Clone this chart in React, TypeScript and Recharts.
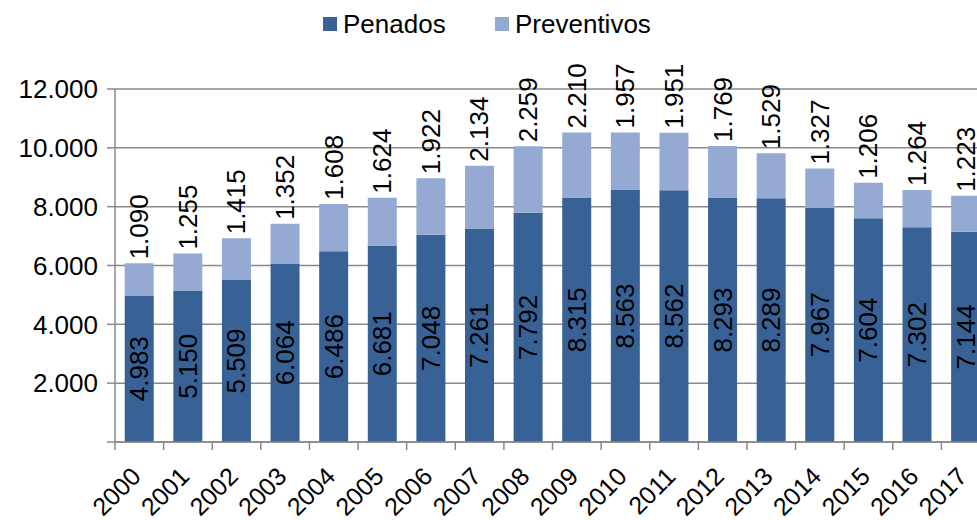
import React from 'react';
import { BarChart, Bar, XAxis, YAxis, CartesianGrid, LabelList } from 'recharts';

const years = ['2000','2001','2002','2003','2004','2005','2006','2007','2008','2009','2010','2011','2012','2013','2014','2015','2016','2017'];
const penados = [4983, 5150, 5509, 6064, 6486, 6681, 7048, 7261, 7792, 8315, 8563, 8562, 8293, 8289, 7967, 7604, 7302, 7144];
const preventivos = [1090, 1255, 1415, 1352, 1608, 1624, 1922, 2134, 2259, 2210, 1957, 1951, 1769, 1529, 1327, 1206, 1264, 1223];
const yTicks = [0, 2000, 4000, 6000, 8000, 10000, 12000];

const data = years.map((y, i) => ({ year: y, penados: penados[i], preventivos: preventivos[i] }));

const DARK = '#386296';
const LIGHT = '#94AAD2';
const GRID = '#8a8a8a';
const FONT = '"Liberation Sans", Arial, sans-serif';

const fmt = (v: number) => String(Math.round(v)).replace(/\B(?=(\d{3})+(?!\d))/g, '.');

const CHART_W = 990;
const CHART_H = 520;
const Y_W = 115;
const BW = (CHART_W - Y_W) / years.length;

const XTick = (props: any) => {
  const { x, y, payload } = props;
  const half = payload && typeof payload.offset === 'number' && payload.offset > 0 ? payload.offset : BW / 2;
  const ax = x + 3;
  const ay = y + 36;
  return (
    <g>
      <line x1={x - half} x2={x - half} y1={y} y2={y + 8} stroke={GRID} strokeWidth={1.5} />
      <text x={ax} y={ay} transform={`rotate(-45, ${ax}, ${ay})`} textAnchor="end" fontSize={25} fontFamily={FONT} fill="#000">
        {payload.value}
      </text>
    </g>
  );
};

const InnerLabel = (props: any) => {
  const { x, y, width, height, value } = props;
  const cx = x + width / 2;
  const cy = y + height / 2;
  return (
    <text x={cx} y={cy} transform={`rotate(-90, ${cx}, ${cy})`} textAnchor="middle" dominantBaseline="central" fontSize={26} fontFamily={FONT} fill="#000">
      {fmt(value)}
    </text>
  );
};

const TopLabel = (props: any) => {
  const { x, y, width, value } = props;
  const cx = x + width / 2;
  const cy = y - 4;
  return (
    <text x={cx} y={cy} transform={`rotate(-90, ${cx}, ${cy})`} textAnchor="start" dominantBaseline="central" fontSize={26} fontFamily={FONT} fill="#000">
      {fmt(value)}
    </text>
  );
};

const LegendItem = ({ color, label, left }: { color: string; label: string; left: number }) => (
  <div style={{ position: 'absolute', left, top: 8, height: 32, display: 'flex', alignItems: 'center' }}>
    <div style={{ width: 14, height: 14, background: color, marginRight: 6 }} />
    <span style={{ fontFamily: FONT, fontSize: 26, color: '#000', lineHeight: '32px' }}>{label}</span>
  </div>
);

export default function App() {
  return (
    <div style={{ position: 'fixed', left: 0, top: 0, width: 977, height: 520, overflow: 'hidden', background: '#fff' }}>
      <LegendItem color={DARK} label="Penados" left={323} />
      <LegendItem color={LIGHT} label="Preventivos" left={495} />
      <div style={{ position: 'absolute', left: 0, top: 0 }}>
        <BarChart width={CHART_W} height={CHART_H} data={data} margin={{ top: 89, right: 0, bottom: 0, left: 0 }} barCategoryGap="20%">
          <CartesianGrid vertical={false} stroke={GRID} strokeWidth={1.5} />
          <XAxis
            dataKey="year"
            height={78}
            axisLine={{ stroke: GRID, strokeWidth: 1.5 }}
            tickLine={false}
            tickSize={0}
            tickMargin={0}
            interval={0}
            tick={<XTick />}
          />
          <YAxis
            width={Y_W}
            domain={[0, 12000]}
            ticks={yTicks}
            interval={0}
            tickFormatter={(v: number) => (v === 0 ? '' : fmt(v))}
            axisLine={{ stroke: GRID, strokeWidth: 1.5 }}
            tickLine={{ stroke: GRID, strokeWidth: 1.5 }}
            tickSize={8}
            tickMargin={9}
            tick={{ fontSize: 26, fontFamily: FONT, fill: '#000' }}
          />
          <Bar dataKey="penados" stackId="a" fill={DARK} isAnimationActive={false}>
            <LabelList dataKey="penados" content={<InnerLabel />} />
          </Bar>
          <Bar dataKey="preventivos" stackId="a" fill={LIGHT} isAnimationActive={false}>
            <LabelList dataKey="preventivos" content={<TopLabel />} />
          </Bar>
        </BarChart>
      </div>
    </div>
  );
}
